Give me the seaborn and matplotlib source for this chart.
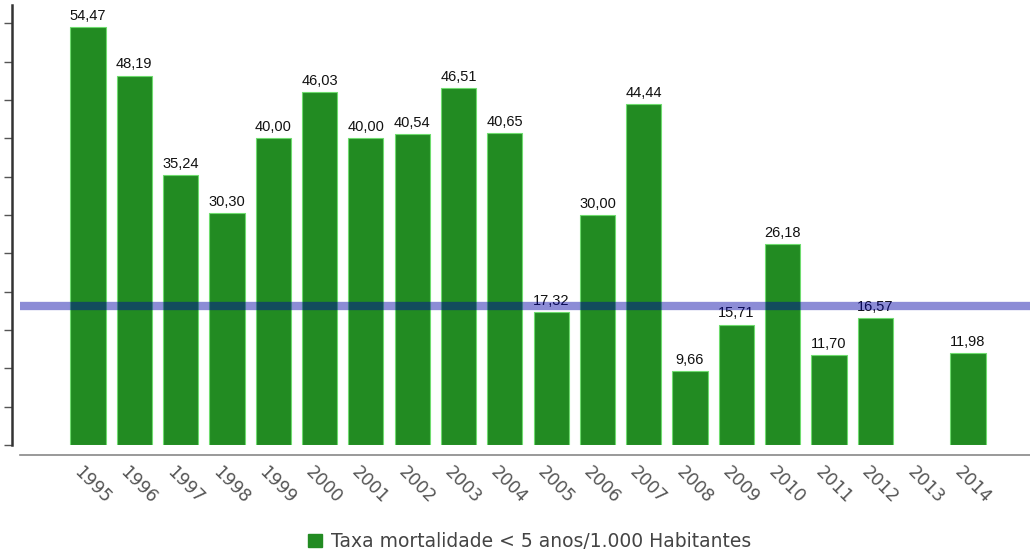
import numpy as np
import pandas as pd
import seaborn as sns
import matplotlib.pyplot as plt
from matplotlib.patches import Patch

years = ['1995', '1996', '1997', '1998', '1999', '2000', '2001', '2002', '2003', '2004',
         '2005', '2006', '2007', '2008', '2009', '2010', '2011', '2012', '2013', '2014']
taxa = [54.47, 48.19, 35.24, 30.30, 40.00, 46.03, 40.00, 40.54, 46.51, 40.65,
        17.32, 30.00, 44.44, 9.66, 15.71, 26.18, 11.70, 16.57, np.nan, 11.98]
media = 18.1
legend_label = 'Taxa mortalidade < 5 anos/1.000 Habitantes'

df = pd.DataFrame({'Ano': years, 'Taxa': taxa})

sns.set_style('white')
fig = plt.figure(figsize=(10.30, 5.53), dpi=100)
ax = fig.add_axes([12 / 1030, 108 / 553, 1 - 12 / 1030, 440 / 553])

sns.barplot(data=df, x='Ano', y='Taxa', order=years, color='#228B22', saturation=1,
            width=0.76, edgecolor='#6fdc6f', linewidth=0.8, ax=ax)

# value labels (brazilian decimal comma), skipping the missing year
for i, v in enumerate(taxa):
    if np.isnan(v):
        continue
    ax.annotate(f'{v:.2f}'.replace('.', ','), (i, v), xytext=(0, 3),
                textcoords='offset points', ha='center', va='bottom',
                fontsize=10.5, family='Liberation Sans', color='#111111')

ax.axhline(media, color=(0, 0, 166 / 255), alpha=0.45, linewidth=6, xmin=0.008,
           solid_capstyle='butt', zorder=5)

ax.set_xlim(-1.64, 20.34)
ax.set_ylim(0, 57.4)
ax.set_yticks(np.arange(0, 56, 5))
ax.set_yticklabels([])
ax.set_xticks(range(len(years)))
ax.set_xticklabels([])
ax.set_xlabel('')
ax.set_ylabel('')
ax.tick_params(axis='y', left=True, length=6, width=1, color='#555555', direction='out')
ax.tick_params(axis='x', bottom=False)

# rotated year labels
for i, y in enumerate(years):
    ax.text(i - 0.24, -0.055, y, transform=ax.get_xaxis_transform(), rotation=-45,
            rotation_mode='anchor', ha='left', va='center', fontsize=12.5, color='#555555')

for s in ['top', 'right']:
    ax.spines[s].set_visible(False)
ax.spines['left'].set_color('#333333')
ax.spines['left'].set_linewidth(1.8)
ax.spines['bottom'].set_position(('outward', 7))
ax.spines['bottom'].set_color('#888888')
ax.spines['bottom'].set_linewidth(1.2)
ax.spines['bottom'].set_bounds(-1.46, 20.34)

fig.legend(handles=[Patch(facecolor='#228B22', edgecolor='#228B22', label=legend_label)],
           loc='lower center', bbox_to_anchor=(0.514, -0.027), frameon=False,
           fontsize=13.5, handlelength=0.75, handleheight=0.75, handletextpad=0.5,
           labelcolor='#444444')

fig.savefig('out.png', dpi=100)
